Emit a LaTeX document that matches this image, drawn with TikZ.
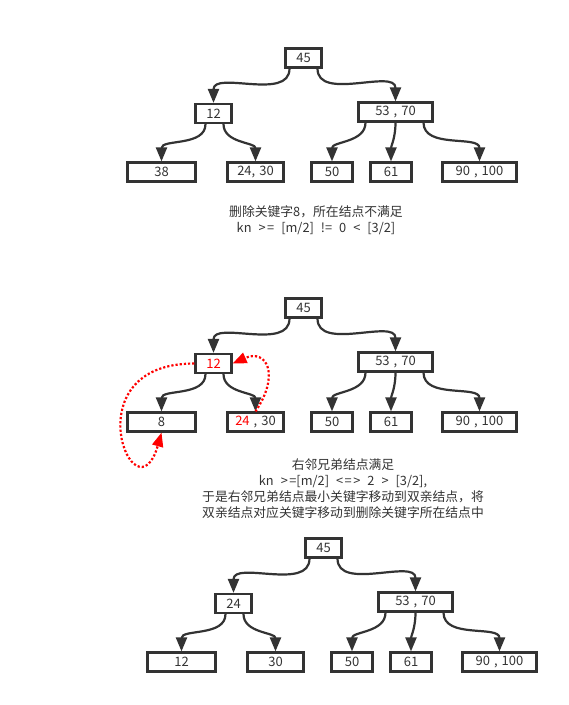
\documentclass[tikz,border=0pt]{standalone}
\usepackage{fontspec}
\setmainfont{Noto Sans CJK SC}
\usetikzlibrary{arrows.meta}
\definecolor{ink}{HTML}{333333}
\tikzset{
  kbox/.style={draw=ink, line width=2.2pt, text=ink, minimum height=19pt, inner sep=0pt, font=\fontsize{13}{15}\selectfont},
  link/.style={draw=ink, line width=2.2pt, -{Triangle[length=14pt,width=11pt]}},
  move/.style={draw=red, line width=2.2pt, dotted, -{Triangle[length=14pt,width=11pt]}},
  note/.style={text=ink, align=center, inner sep=0pt, font=\fontsize{12.8}{16}\selectfont},
}
\newcommand{\gap}{\hspace{7pt}}
\newcommand{\cm}{\hspace{4pt},\hspace{4pt}}

\begin{document}
\begin{tikzpicture}[x=1pt,y=1pt]
  \useasboundingbox (0,0) rectangle (569,-705);

  %% ==================
  %% tree before deletion
  %% ==================
  \begin{scope}
    \node[kbox, minimum width=36pt] (a45) at (303.5,-58) {45};
    \node[kbox, minimum width=36pt] (a12) at (213.5,-113.5) {12};
    \node[kbox, minimum width=74pt] (a5370) at (395.5,-112) {53\cm70};
    \node[kbox, minimum width=68pt] (a38) at (161.5,-172) {38};
    \node[kbox, minimum width=56pt] (a2430) at (255.5,-172) {24,\hspace{4pt}30};
    \node[kbox, minimum width=41pt] (a50) at (332,-172) {50};
    \node[kbox, minimum width=41pt] (a61) at (391,-172) {61};
    \node[kbox, minimum width=74pt] (a90) at (479.5,-172) {90\cm100};

    \draw[link] ([xshift=-14pt]a45.south) to[out=-90,in=90] (a12.north);
    \draw[link] ([xshift=14pt]a45.south) to[out=-90,in=90] (a5370.north);
    \draw[link] ([xshift=-8pt]a12.south) to[out=-90,in=90] (a38.north);
    \draw[link] ([xshift=10pt]a12.south) to[out=-90,in=90] (a2430.north);
    \draw[link] ([xshift=-30pt]a5370.south) to[out=-90,in=90] (a50.north);
    \draw[link] (a5370.south) to[out=-90,in=90] (a61.north);
    \draw[link] ([xshift=28pt]a5370.south) to[out=-90,in=90] (a90.north);
  \end{scope}

  \node[note] (t1) at (316,-220) {删除关键字8，所在结点不满足\\
    kn\gap>\hspace{1.5pt}=\gap[m/2]\gap!=\gap0\gap<\gap[3/2]};

  %% ==================
  %% borrow from right sibling
  %% ==================
  \begin{scope}[shift={(0,-250)}]
    \node[kbox, minimum width=36pt] (b45) at (303.5,-58) {45};
    \node[kbox, minimum width=36pt, text=red] (b12) at (213.5,-113.5) {12};
    \node[kbox, minimum width=74pt] (b5370) at (395.5,-112) {53\cm70};
    \node[kbox, minimum width=68pt] (b8) at (161.5,-172) {8};
    \node[kbox, minimum width=56pt] (b2430) at (255.5,-172) {\textcolor{red}{24}\cm30};
    \node[kbox, minimum width=41pt] (b50) at (332,-172) {50};
    \node[kbox, minimum width=41pt] (b61) at (391,-172) {61};
    \node[kbox, minimum width=74pt] (b90) at (479.5,-172) {90\cm100};

    \draw[link] ([xshift=-14pt]b45.south) to[out=-90,in=90] (b12.north);
    \draw[link] ([xshift=14pt]b45.south) to[out=-90,in=90] (b5370.north);
    \draw[link] ([xshift=-8pt]b12.south) to[out=-90,in=90] (b8.north);
    \draw[link] ([xshift=10pt]b12.south) to[out=-90,in=90] (b2430.north);
    \draw[link] ([xshift=-30pt]b5370.south) to[out=-90,in=90] (b50.north);
    \draw[link] (b5370.south) to[out=-90,in=90] (b61.north);
    \draw[link] ([xshift=28pt]b5370.south) to[out=-90,in=90] (b90.north);

    % key moves
    \draw[move] (b12.west) .. controls +(-125,0) and +(-26,-91) .. (b8.south);
    \draw[move] (b2430.north) .. controls +(25,37) and +(34,15) .. (b12.east);
  \end{scope}

  \node[note] (t2) at (343,-489) {右邻兄弟结点满足\\
    kn\gap>\hspace{1.5pt}=[m/2]\gap<\hspace{1.5pt}=\hspace{1.5pt}>\gap2\gap>\gap[3/2],\\
    于是右邻兄弟结点最小关键字移动到双亲结点，将\\
    双亲结点对应关键字移动到删除关键字所在结点中};

  %% ==================
  %% tree after deletion
  %% ==================
  \begin{scope}[shift={(20,-490)}]
    \node[kbox, minimum width=36pt] (c45) at (303.5,-58) {45};
    \node[kbox, minimum width=36pt] (c24) at (213.5,-113.5) {24};
    \node[kbox, minimum width=74pt] (c5370) at (395.5,-112) {53\cm70};
    \node[kbox, minimum width=68pt] (c12) at (161.5,-172) {12};
    \node[kbox, minimum width=56pt] (c30) at (255.5,-172) {30};
    \node[kbox, minimum width=41pt] (c50) at (332,-172) {50};
    \node[kbox, minimum width=41pt] (c61) at (391,-172) {61};
    \node[kbox, minimum width=74pt] (c90) at (479.5,-172) {90\cm100};

    \draw[link] ([xshift=-14pt]c45.south) to[out=-90,in=90] (c24.north);
    \draw[link] ([xshift=14pt]c45.south) to[out=-90,in=90] (c5370.north);
    \draw[link] ([xshift=-8pt]c24.south) to[out=-90,in=90] (c12.north);
    \draw[link] ([xshift=10pt]c24.south) to[out=-90,in=90] (c30.north);
    \draw[link] ([xshift=-30pt]c5370.south) to[out=-90,in=90] (c50.north);
    \draw[link] (c5370.south) to[out=-90,in=90] (c61.north);
    \draw[link] ([xshift=28pt]c5370.south) to[out=-90,in=90] (c90.north);
  \end{scope}
\end{tikzpicture}
\end{document}
